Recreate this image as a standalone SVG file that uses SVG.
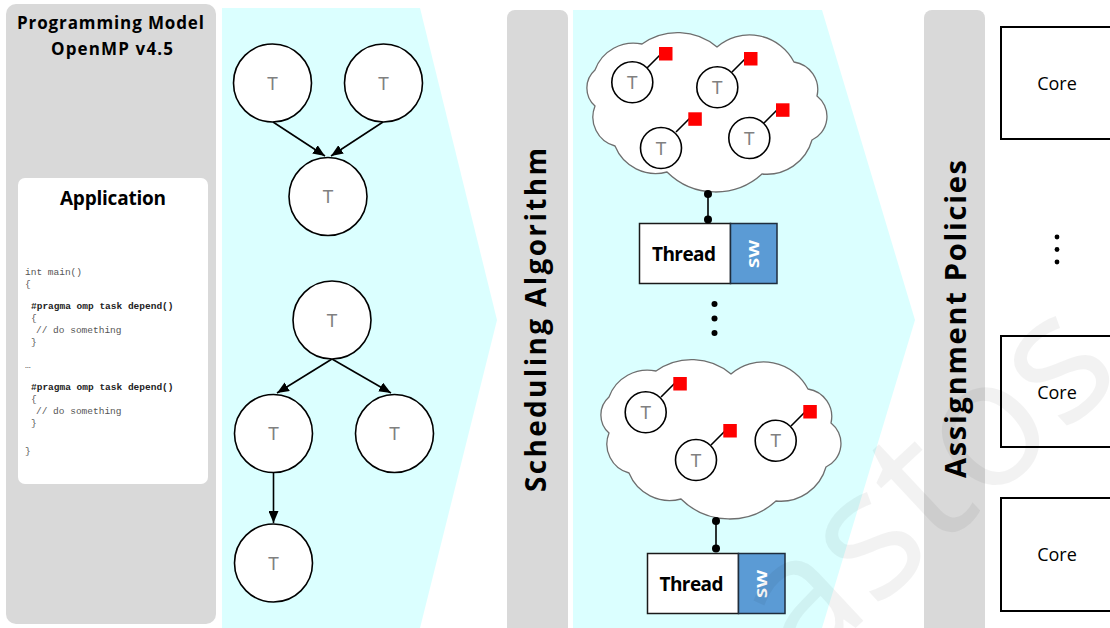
<svg xmlns="http://www.w3.org/2000/svg" width="1110" height="628" viewBox="0 0 1110 628">
  <defs>
    <style>
      .bar{fill:#d9d9d9}
      .flow{fill:#dbffff}
      .hd{font-family:"Open Sans","Liberation Sans",sans-serif;font-weight:bold;fill:#000}
      .code{font-family:"Liberation Mono","Courier New",monospace;font-size:9.5px;fill:#555}
      .code.b{font-weight:bold;fill:#222}
      .task{fill:#fff;stroke:#000;stroke-width:1.6}
      .tl{font-family:"Liberation Sans",Arial,sans-serif;font-size:18px;fill:#808080;text-anchor:middle}
      .edge{stroke:#000;stroke-width:1.6;fill:none}
      .link{stroke:#000;stroke-width:1.6}
      .tag{fill:#ff0000}
      .cloud{fill:#fff;stroke:#6e6e6e;stroke-width:1.3}
      .thr{fill:#fff;stroke:#1a1a1a;stroke-width:1.5}
      .sw{fill:#5b9bd5;stroke:#1f2d3d;stroke-width:1.5}
      .swt{font-family:"Open Sans","Liberation Sans",sans-serif;font-weight:bold;font-size:15px;fill:#fff;text-anchor:middle}
      .core{fill:#fff;stroke:#000;stroke-width:2}
      .ct{font-family:"Open Sans","Liberation Sans",sans-serif;font-size:18px;fill:#000;text-anchor:middle}
      .wm{font-family:"Open Sans","Liberation Sans",sans-serif;font-size:180px;fill:#000;fill-opacity:.05}
    </style>
    <marker id="arr" viewBox="0 0 12 10" refX="12" refY="5" markerWidth="12" markerHeight="10" markerUnits="userSpaceOnUse" orient="auto">
      <path d="M0,0 L12,5 L0,10 z" fill="#000"/>
    </marker>
    <!-- cloud outline, local box 240 x 160 -->
    <path id="cloudShape" d="M8,38 A41,41 0 0 1 55,12 A61,61 0 0 1 130,15 A50,50 0 0 1 207,30 A28,28 0 0 1 230,64 A26,26 0 0 1 225,108 A47,47 0 0 1 175,142 A69,69 0 0 1 80,140 A44,44 0 0 1 28,114 A30,30 0 0 1 8,74 A24,24 0 0 1 8,38 Z"/>
  </defs>

  <rect width="1110" height="628" fill="#fff"/>

  <!-- stage backgrounds -->
  <g id="stages">
    <rect class="bar" x="6" y="4" width="210" height="620" rx="10"/>
    <polygon class="flow" points="222,8 420,8 497,320 420,628 222,628"/>
    <rect class="bar" x="507" y="10" width="61" height="630" rx="8"/>
    <polygon class="flow" points="573,10 822,10 915,320 822,628 573,628"/>
    <rect class="bar" x="924" y="10" width="61" height="630" rx="8"/>
  </g>

  <!-- programming model -->
  <g id="model">
    <text class="hd" font-size="17" x="110.5" y="28.5" text-anchor="middle" textLength="187">Programming Model</text>
    <text class="hd" font-size="17" x="112" y="55" text-anchor="middle" textLength="122">OpenMP v4.5</text>
  </g>

  <g id="application">
    <rect x="18" y="178" width="190" height="306" rx="7" fill="#fff"/>
    <text class="hd" font-size="19" x="113" y="205" text-anchor="middle" textLength="106">Application</text>
    <text class="code" x="25" y="275">int main()</text>
    <text class="code" x="25" y="287">{</text>
    <text class="code b" x="31" y="309">#pragma omp task depend()</text>
    <text class="code" x="31" y="321">{</text>
    <text class="code" x="36" y="333">// do something</text>
    <text class="code" x="31" y="345">}</text>
    <text class="code" x="25" y="368">…</text>
    <text class="code b" x="31" y="390">#pragma omp task depend()</text>
    <text class="code" x="31" y="402">{</text>
    <text class="code" x="36" y="414">// do something</text>
    <text class="code" x="31" y="426">}</text>
    <text class="code" x="25" y="454">}</text>
  </g>

  <!-- task graphs -->
  <g id="graph-edges">
    <line class="edge" x1="273" y1="122" x2="325" y2="156" marker-end="url(#arr)"/>
    <line class="edge" x1="383" y1="122" x2="331" y2="156" marker-end="url(#arr)"/>
    <line class="edge" x1="332" y1="359" x2="277" y2="393" marker-end="url(#arr)"/>
    <line class="edge" x1="332" y1="359" x2="391" y2="393" marker-end="url(#arr)"/>
    <line class="edge" x1="273.5" y1="473" x2="273.5" y2="523" marker-end="url(#arr)"/>
  </g>
  <g id="t1"><circle class="task" cx="272.5" cy="83" r="39"/><text class="tl" x="272.5" y="89.5">T</text></g>
  <g id="t2"><circle class="task" cx="383.5" cy="83" r="39"/><text class="tl" x="383.5" y="89.5">T</text></g>
  <g id="t3"><circle class="task" cx="328" cy="196.5" r="39"/><text class="tl" x="328" y="203">T</text></g>
  <g id="t4"><circle class="task" cx="332" cy="320" r="39"/><text class="tl" x="332" y="326.5">T</text></g>
  <g id="t5"><circle class="task" cx="273.5" cy="433.5" r="39"/><text class="tl" x="273.5" y="440">T</text></g>
  <g id="t6"><circle class="task" cx="394.5" cy="433.5" r="39"/><text class="tl" x="394.5" y="440">T</text></g>
  <g id="t7"><circle class="task" cx="273.5" cy="563" r="39"/><text class="tl" x="273.5" y="569.5">T</text></g>

  <!-- scheduling -->
  <g id="scheduling">
    <text class="hd" font-size="28" text-anchor="middle" textLength="344" transform="translate(546,320) rotate(-90)">Scheduling Algorithm</text>
  </g>

  <g id="pool1">
    <use href="#cloudShape" class="cloud" transform="translate(587,32)"/>
    <g id="p1a"><line class="link" x1="647" y1="68" x2="661" y2="54"/><rect class="tag" x="659" y="47" width="13.5" height="13.5"/><circle class="task" cx="632.3" cy="82.3" r="20.5"/><text class="tl" x="632.3" y="88.8">T</text></g>
    <g id="p1b"><line class="link" x1="732" y1="72" x2="746" y2="58"/><rect class="tag" x="744" y="52" width="13.5" height="13.5"/><circle class="task" cx="717.3" cy="87.3" r="20.5"/><text class="tl" x="717.3" y="93.8">T</text></g>
    <g id="p1c"><line class="link" x1="676" y1="132" x2="690" y2="118"/><rect class="tag" x="688.3" y="112.3" width="13.5" height="13.5"/><circle class="task" cx="661" cy="148" r="20.5"/><text class="tl" x="661" y="154.5">T</text></g>
    <g id="p1d"><line class="link" x1="764" y1="123" x2="778" y2="109"/><rect class="tag" x="776" y="103.3" width="13.5" height="13.5"/><circle class="task" cx="749.3" cy="138" r="20.5"/><text class="tl" x="749.3" y="144.5">T</text></g>
  </g>

  <g id="pool2">
    <use href="#cloudShape" class="cloud" transform="translate(601,359)"/>
    <g id="p2a"><line class="link" x1="661" y1="397" x2="675" y2="383"/><rect class="tag" x="673.3" y="377" width="13.5" height="13.5"/><circle class="task" cx="645.7" cy="412.3" r="20.5"/><text class="tl" x="645.7" y="418.8">T</text></g>
    <g id="p2b"><line class="link" x1="711" y1="445" x2="725" y2="431"/><rect class="tag" x="723.3" y="424" width="13.5" height="13.5"/><circle class="task" cx="696" cy="460" r="20.5"/><text class="tl" x="696" y="466.5">T</text></g>
    <g id="p2c"><line class="link" x1="791" y1="426" x2="805" y2="412"/><rect class="tag" x="803.3" y="405" width="13.5" height="13.5"/><circle class="task" cx="775.7" cy="440.7" r="20.5"/><text class="tl" x="775.7" y="447.2">T</text></g>
  </g>

  <g id="thread1">
    <rect class="thr" x="639.5" y="223.5" width="91" height="60"/>
    <rect class="sw" x="730.5" y="223.5" width="46.5" height="60"/>
    <text class="hd" font-size="19" x="684" y="261" text-anchor="middle" textLength="64">Thread</text>
    <text class="swt" transform="translate(758.5,254) rotate(-90)" textLength="28" lengthAdjust="spacingAndGlyphs">SW</text>
  </g>
  <g id="thread2">
    <rect class="thr" x="647.5" y="553.5" width="91" height="60"/>
    <rect class="sw" x="738.5" y="553.5" width="46.5" height="60"/>
    <text class="hd" font-size="19" x="691.5" y="591" text-anchor="middle" textLength="64">Thread</text>
    <text class="swt" transform="translate(766.5,584) rotate(-90)" textLength="28" lengthAdjust="spacingAndGlyphs">SW</text>
  </g>

  <g id="thread-more" fill="#000">
    <circle cx="714.5" cy="304" r="3"/>
    <circle cx="714.5" cy="318.5" r="3"/>
    <circle cx="714.5" cy="333" r="3"/>
  </g>

  <!-- pool to thread links -->
  <g id="connectors" fill="#000">
    <line class="link" x1="708" y1="194" x2="708" y2="219"/>
    <circle cx="708" cy="194" r="4"/>
    <circle cx="708" cy="219.5" r="4"/>
    <line class="link" x1="716" y1="521" x2="716" y2="548"/>
    <circle cx="716" cy="521" r="4"/>
    <circle cx="716" cy="548.5" r="4"/>
  </g>

  <!-- assignment -->
  <g id="assignment">
    <text class="hd" font-size="29" text-anchor="middle" textLength="318" transform="translate(966,319) rotate(-90)">Assignment Policies</text>
  </g>

  <g id="core1"><rect class="core" x="1001" y="27" width="115" height="112"/><text class="ct" x="1057" y="90">Core</text></g>
  <g id="core-more" fill="#000">
    <circle cx="1057" cy="237" r="2.4"/>
    <circle cx="1057" cy="249.5" r="2.4"/>
    <circle cx="1057" cy="262" r="2.4"/>
  </g>
  <g id="core2"><rect class="core" x="1001" y="336" width="115" height="111"/><text class="ct" x="1057" y="398.5">Core</text></g>
  <g id="core3"><rect class="core" x="1001" y="498" width="115" height="113"/><text class="ct" x="1057" y="561">Core</text></g>

  <text class="wm" transform="translate(801,679) rotate(-43)">astos</text>
</svg>
